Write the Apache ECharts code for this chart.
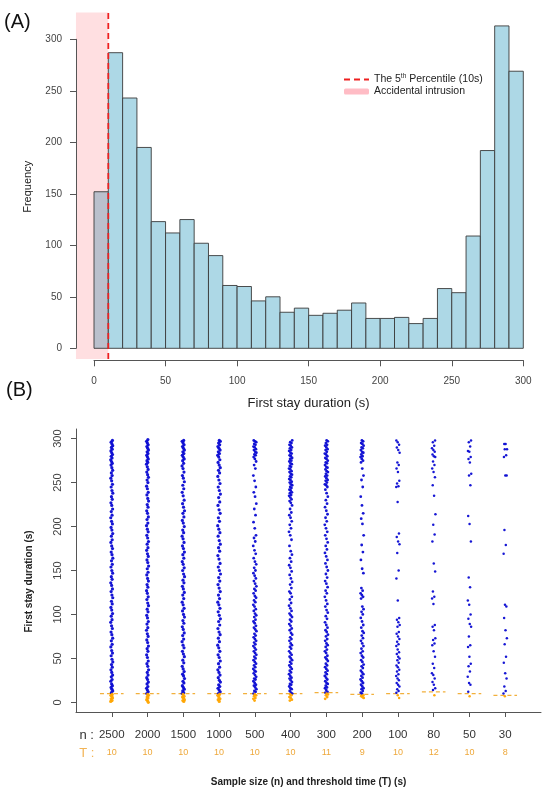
<!DOCTYPE html>
<html>
<head>
<meta charset="utf-8">
<script src="https://cdn.jsdelivr.net/npm/echarts@6/dist/echarts.min.js"></script>
<style>
html, body { margin: 0; padding: 0; background: #fff; }
#main { width: 550px; height: 801px; }
</style>
</head>
<body>
<div id="main"></div>
<script>
// ---- (A) histogram of first stay duration, 10 s bins ----
var binEdges = [0, 10, 20, 30, 40, 50, 60, 70, 80, 90, 100, 110, 120, 130, 140, 150,
    160, 170, 180, 190, 200, 210, 220, 230, 240, 250, 260, 270, 280, 290, 300];
var binCounts = [152, 287, 243, 195, 123, 112, 125, 102, 90, 61, 60, 46, 50, 35, 39,
    32, 34, 37, 44, 29, 29, 30, 24, 29, 58, 54, 109, 192, 313, 269];
var cutoffTime = 10;          // 5th percentile
var intrusionFrom = -12.6;    // pink band starts at the left edge of the plot
var histFreqRange = [-10.5, 326];

// ---- (B) strip chart per sample size ----
var sampleSizes = [2500, 2000, 1500, 1000, 500, 400, 300, 200, 100, 80, 50, 30];
var thresholdTimes = [10, 10, 10, 10, 10, 10, 11, 9, 10, 12, 10, 8];

var stay2500 = [1, 2, 4, 5, 7, 8, 9, 11, 13, 15, 17, 19, 21, 24, 26, 29, 31, 34, 37, 40, 43, 46, 49,
    53, 56, 59, 63, 66, 70, 73, 77, 80, 84, 87, 91, 94, 98, 101, 105, 108, 112, 115, 119, 122, 126,
    129, 133, 136, 140, 143, 147, 150, 154, 157, 161, 164, 168, 171, 175, 178, 182, 185, 189, 192,
    196, 199, 203, 206, 210, 213, 217, 220, 224, 227, 231, 234, 238, 241, 245, 248, 252, 255, 258,
    261, 264, 267, 270, 272, 274, 276, 278, 280, 282, 284, 286, 288, 290, 292, 294, 296, 298];
var stay2000 = [0, 2, 3, 5, 6, 8, 9, 10, 12, 14, 16, 18, 21, 23, 26, 28, 31, 34, 37, 41, 44, 47, 51,
    54, 58, 61, 64, 68, 71, 75, 78, 82, 85, 89, 92, 96, 99, 103, 106, 110, 113, 117, 120, 124, 127,
    131, 134, 138, 141, 145, 148, 152, 155, 159, 162, 166, 169, 173, 176, 180, 183, 187, 190, 194,
    197, 201, 204, 208, 211, 215, 218, 222, 225, 229, 232, 236, 239, 243, 246, 250, 253, 256, 259,
    262, 265, 268, 271, 273, 275, 277, 279, 281, 283, 285, 287, 289, 291, 293, 295, 297, 299];
var stay1500 = [1, 2, 3, 5, 6, 7, 9, 10, 11, 13, 15, 17, 19, 22, 24, 27, 30, 32, 35, 38, 41, 45, 48,
    52, 55, 58, 62, 65, 69, 72, 76, 79, 83, 86, 90, 93, 97, 100, 104, 107, 111, 114, 118, 122, 125,
    129, 132, 136, 139, 143, 146, 150, 153, 157, 160, 164, 168, 171, 175, 178, 182, 186, 189, 193,
    196, 200, 204, 207, 211, 215, 218, 222, 226, 230, 235, 239, 243, 247, 251, 255, 258, 262, 266,
    269, 272, 275, 277, 279, 281, 283, 285, 287, 289, 291, 293, 295, 297, 298];
var stay1000 = [1, 3, 4, 6, 8, 9, 10, 12, 14, 16, 18, 20, 23, 25, 28, 31, 34, 37, 40, 44, 47, 51, 54,
    58, 62, 65, 69, 73, 77, 80, 84, 88, 92, 95, 99, 103, 107, 111, 114, 118, 122, 126, 130, 134, 138,
    142, 146, 150, 154, 158, 163, 167, 172, 176, 180, 184, 189, 193, 197, 201, 206, 210, 215, 219,
    224, 228, 233, 237, 241, 245, 249, 253, 257, 261, 264, 267, 270, 273, 276, 279, 281, 283, 285,
    287, 289, 291, 293, 295, 297, 298];
var stay500 = [2, 4, 5, 7, 8, 9, 10, 12, 13, 15, 17, 19, 20, 22, 24, 26, 27, 29, 31, 33, 35, 36, 38,
    40, 42, 44, 46, 48, 50, 52, 54, 56, 58, 60, 62, 64, 66, 68, 70, 72, 74, 76, 78, 81, 83, 85, 87,
    90, 92, 94, 97, 99, 101, 104, 106, 109, 111, 114, 116, 119, 121, 124, 127, 129, 132, 135, 138,
    141, 144, 147, 150, 153, 157, 160, 164, 169, 173, 178, 183, 187, 190, 198, 205, 213, 220, 226,
    234, 239, 245, 252, 258, 266, 270, 274, 277, 279, 281, 282, 284, 285, 287, 288, 290, 291, 293,
    294, 296, 297, 298];
var stay400 = [2, 3, 5, 6, 8, 9, 10, 11, 13, 15, 16, 18, 20, 21, 23, 25, 27, 28, 30, 32, 34, 36, 38,
    40, 42, 44, 46, 48, 50, 52, 54, 56, 58, 61, 63, 65, 67, 70, 72, 74, 77, 79, 82, 84, 87, 89, 92,
    94, 97, 99, 101, 104, 107, 110, 113, 117, 120, 124, 126, 130, 134, 137, 141, 145, 149, 153, 156,
    160, 164, 168, 172, 178, 185, 190, 194, 198, 202, 206, 210, 213, 216, 220, 224, 227, 229, 231,
    233, 235, 236, 238, 239, 241, 242, 244, 245, 247, 248, 250, 251, 253, 254, 256, 257, 259, 260,
    262, 263, 265, 266, 268, 269, 271, 272, 274, 275, 277, 278, 280, 281, 283, 284, 286, 287, 289,
    290, 292, 293, 295, 296, 298];
var stay300 = [4, 6, 8, 9, 10, 11, 12, 14, 16, 17, 19, 21, 22, 24, 26, 28, 30, 32, 34, 36, 38, 40,
    42, 44, 47, 49, 51, 53, 56, 58, 60, 63, 65, 67, 70, 72, 75, 77, 80, 82, 85, 88, 91, 95, 98, 102,
    105, 109, 112, 116, 120, 124, 127, 131, 135, 138, 142, 146, 150, 154, 158, 162, 166, 170, 174,
    178, 182, 186, 190, 194, 198, 202, 206, 210, 214, 218, 222, 226, 230, 234, 238, 242, 245, 247,
    248, 250, 252, 253, 255, 257, 258, 260, 262, 263, 265, 267, 268, 270, 272, 273, 275, 277, 278,
    280, 282, 283, 285, 287, 288, 290, 292, 293, 295, 297, 298];
var stay200 = [5, 6, 7, 8, 10, 11, 13, 15, 16, 18, 20, 22, 24, 26, 28, 30, 32, 34, 36, 39, 41, 43,
    46, 48, 51, 53, 56, 58, 61, 64, 67, 70, 73, 76, 79, 81, 85, 88, 92, 96, 100, 103, 106, 109, 118,
    120, 122, 124, 127, 130, 147, 152, 162, 171, 179, 190, 203, 209, 215, 224, 234, 245, 253, 258,
    266, 273, 275, 277, 279, 280, 282, 284, 285, 287, 289, 290, 292, 294, 295, 297, 298];
var stay100 = [5, 8, 11, 13, 15, 18, 20, 22, 25, 27, 30, 32, 35, 37, 40, 42, 45, 48, 50, 52, 55, 57,
    60, 64, 66, 69, 72, 75, 78, 80, 86, 88, 91, 94, 96, 116, 141, 150, 170, 180, 183, 188, 192, 228,
    245, 246, 249, 252, 262, 266, 270, 273, 284, 287, 290, 293, 296, 298];
var stay80 = [8, 14, 16, 20, 23, 27, 31, 33, 39, 44, 52, 58, 65, 67, 71, 73, 82, 86, 88, 112, 118,
    120, 126, 149, 158, 183, 191, 202, 214, 235, 247, 256, 262, 266, 270, 274, 279, 280, 282, 285,
    287, 289, 292, 296, 298];
var stay50 = [7, 12, 20, 22, 29, 35, 41, 44, 52, 63, 65, 75, 86, 89, 95, 100, 111, 116, 131, 142,
    183, 203, 212, 247, 258, 260, 273, 277, 279, 285, 286, 291, 296, 298];
var stay30 = [7, 10, 13, 18, 27, 33, 45, 52, 66, 73, 82, 96, 109, 111, 169, 179, 196, 258, 258, 279,
    281, 288, 288, 294, 294];

var stayRange = [-11, 311];
var tickValues = [0, 50, 100, 150, 200, 250, 300];

var FONT = '"Liberation Sans", Arial, sans-serif';
var chart = echarts.init(document.getElementById('main'), null, { renderer: 'canvas' });

var histData = [];
for (var i = 0; i < binCounts.length; i++) {
    histData.push([binEdges[i], binEdges[i + 1], binCounts[i]]);
}

// 各组的点，阈值以下为橙色；横向错开一点避免重叠
var groups = [stay2500, stay2000, stay1500, stay1000, stay500, stay400,
    stay300, stay200, stay100, stay80, stay50, stay30];
var spread = [0.03, 0.03, 0.035, 0.04, 0.045, 0.045, 0.045, 0.045, 0.05, 0.05, 0.05, 0.05];
var blueDots = [];
var orangeDots = [];
groups.forEach(function(vals, g) {
    vals.forEach(function(v, k) {
        var frac = ((k + g * 3) * 0.618034) % 1;
        var pt = [g + 1 + (frac * 2 - 1) * spread[g], v];
        if (v < thresholdTimes[g]) {
            orangeDots.push(pt);
        } else {
            blueDots.push(pt);
        }
    });
});
var dotSize = function(val) {
    if (val[0] < 4.5) return 3.2;
    if (val[0] < 8.5) return 2.8;
    return 2.5;
};

var thresholdData = thresholdTimes.map(function(t, i) {
    return [i + 1, t];
});
var xTickValues = sampleSizes.map(function(s, i) { return i + 1; });
var xLabelValues = [0.3].concat(xTickValues);

var option = {
    animation: false,
    backgroundColor: '#fff',
    textStyle: { fontFamily: FONT },
    graphic: [
        { type: 'text', left: 4, top: 12, style: { text: '(A)', fontSize: 20, fontFamily: FONT, fill: '#111' } },
        { type: 'text', left: 6, top: 380, style: { text: '(B)', fontSize: 20, fontFamily: FONT, fill: '#111' } }
    ],
    legend: {
        left: 343,
        top: 73,
        padding: 0,
        orient: 'vertical',
        itemWidth: 25,
        itemHeight: 6,
        itemGap: 1,
        data: [
            { name: 'The 5th Percentile (10s)', itemStyle: { color: 'rgba(0,0,0,0)', borderWidth: 0 } },
            { name: 'Accidental intrusion', icon: 'roundRect', itemStyle: { color: '#ffbcc5' } }
        ],
        formatter: function(name) {
            return name.replace('5th', '5{sup|th}');
        },
        textStyle: {
            fontFamily: FONT,
            fontSize: 10.5,
            color: '#222',
            rich: {
                sup: { fontSize: 6.5, fontFamily: FONT, color: '#222', padding: [0, 0, 6, 0] }
            }
        }
    },
    grid: [
        { left: 94, top: 39.3, width: 429.3, height: 309 },
        { left: 76, top: 429, width: 465, height: 283 }
    ],
    xAxis: [{
        gridIndex: 0,
        type: 'value',
        zlevel: 1,
        min: 0,
        max: 300,
        interval: 50,
        offset: 12,
        axisLine: { onZero: false, lineStyle: { color: '#555', width: 1 } },
        axisTick: { length: 6, lineStyle: { color: '#555' } },
        axisLabel: { margin: 16, fontSize: 10, color: '#444', fontFamily: FONT },
        splitLine: { show: false },
        name: 'First stay duration (s)',
        nameLocation: 'middle',
        nameGap: 37,
        nameTextStyle: { fontSize: 13, color: '#222', fontFamily: FONT }
    }, {
        gridIndex: 1,
        type: 'value',
        min: 0,
        max: 13,
        axisLine: { onZero: false, lineStyle: { color: '#555', width: 1 } },
        axisTick: { length: 5, customValues: xTickValues, lineStyle: { color: '#555' } },
        axisLabel: {
            margin: 14,
            customValues: xLabelValues,
            formatter: function(v) {
                if (v < 0.5) {
                    return '{nl|n :}\n{tl|T :}';
                }
                var idx = Math.round(v) - 1;
                return '{n|' + sampleSizes[idx] + '}\n{t|' + thresholdTimes[idx] + '}';
            },
            rich: {
                n: { fontSize: 11.5, color: '#333', lineHeight: 18, fontFamily: FONT },
                t: { fontSize: 9, color: '#eea83a', lineHeight: 18, fontFamily: FONT },
                nl: { fontSize: 13, color: '#333', lineHeight: 18, fontFamily: FONT },
                tl: { fontSize: 13, color: '#f2b456', lineHeight: 18, fontFamily: FONT }
            }
        },
        splitLine: { show: false },
        name: 'Sample size (n) and threshold time (T) (s)',
        nameLocation: 'middle',
        nameGap: 65,
        nameTextStyle: { fontSize: 10, fontWeight: 'bold', color: '#222', fontFamily: FONT }
    }],
    yAxis: [{
        gridIndex: 0,
        type: 'value',
        zlevel: 1,
        min: 0,
        max: 300,
        interval: 50,
        offset: 18,
        axisLine: { show: true, onZero: false, lineStyle: { color: '#555', width: 1 } },
        axisTick: { show: true, length: 6, lineStyle: { color: '#555' } },
        axisLabel: { margin: 14, fontSize: 10, color: '#444', fontFamily: FONT },
        splitLine: { show: false },
        name: 'Frequency',
        nameLocation: 'middle',
        nameGap: 43,
        nameTextStyle: { fontSize: 11, color: '#222', fontFamily: FONT, padding: [0, 0, 0, 14] }
    }, {
        gridIndex: 1,
        type: 'value',
        min: stayRange[0],
        max: stayRange[1],
        axisLine: { show: true, onZero: false, lineStyle: { color: '#555', width: 1 } },
        axisTick: { show: true, length: 5, customValues: tickValues, lineStyle: { color: '#555' } },
        axisLabel: { margin: 13, rotate: 90, fontSize: 11, color: '#444', fontFamily: FONT, customValues: tickValues },
        splitLine: { show: false },
        name: 'First stay duration (s)',
        nameLocation: 'middle',
        nameGap: 42,
        nameTextStyle: { fontSize: 10, fontWeight: 'bold', color: '#222', fontFamily: FONT, padding: [0, 22, 0, 0] }
    }],
    series: [{
        name: 'Accidental intrusion',
        type: 'custom',
        xAxisIndex: 0,
        yAxisIndex: 0,
        z: 1,
        clip: false,
        data: [[intrusionFrom, cutoffTime]],
        renderItem: function(params, api) {
            var p0 = api.coord([api.value(0), histFreqRange[1]]);
            var p1 = api.coord([api.value(1), histFreqRange[0]]);
            return {
                type: 'rect',
                shape: { x: p0[0], y: p0[1], width: p1[0] - p0[0], height: p1[1] - p0[1] },
                style: { fill: '#ffdfe1' }
            };
        }
    }, {
        name: 'hist',
        type: 'custom',
        xAxisIndex: 0,
        yAxisIndex: 0,
        z: 2,
        clip: false,
        data: histData,
        encode: { x: [0, 1], y: 2 },
        renderItem: function(params, api) {
            var p0 = api.coord([api.value(0), api.value(2)]);
            var p1 = api.coord([api.value(1), 0]);
            return {
                type: 'rect',
                shape: { x: p0[0], y: p0[1], width: p1[0] - p0[0], height: p1[1] - p0[1] },
                style: {
                    fill: api.value(0) < cutoffTime ? '#bac0cc' : '#add8e6',
                    stroke: '#3a3a3a',
                    lineWidth: 0.9
                }
            };
        }
    }, {
        name: 'The 5th Percentile (10s)',
        type: 'line',
        xAxisIndex: 0,
        yAxisIndex: 0,
        z: 3,
        clip: false,
        symbol: 'none',
        data: [[cutoffTime, histFreqRange[0]], [cutoffTime, histFreqRange[1]]],
        itemStyle: { color: '#ee2020' },
        lineStyle: { color: '#ee2020', width: 1.8, type: [6, 4] }
    }, {
        name: 'threshold',
        type: 'custom',
        xAxisIndex: 1,
        yAxisIndex: 1,
        z: 2,
        data: thresholdData,
        renderItem: function(params, api) {
            var a = api.coord([api.value(0) - 0.33, api.value(1)]);
            var b = api.coord([api.value(0) + 0.33, api.value(1)]);
            return {
                type: 'line',
                shape: { x1: a[0], y1: a[1], x2: b[0], y2: b[1] },
                style: { stroke: '#f2b03c', lineWidth: 1.2, lineDash: [4, 3] }
            };
        }
    }, {
        name: 'above',
        type: 'scatter',
        xAxisIndex: 1,
        yAxisIndex: 1,
        z: 3,
        symbolSize: dotSize,
        itemStyle: { color: '#0a0ad2', opacity: 0.95 },
        data: blueDots
    }, {
        name: 'below',
        type: 'scatter',
        xAxisIndex: 1,
        yAxisIndex: 1,
        z: 3,
        symbolSize: dotSize,
        itemStyle: { color: '#ffa500', opacity: 0.95 },
        data: orangeDots
    }]
};

chart.setOption(option);
</script>
</body>
</html>
